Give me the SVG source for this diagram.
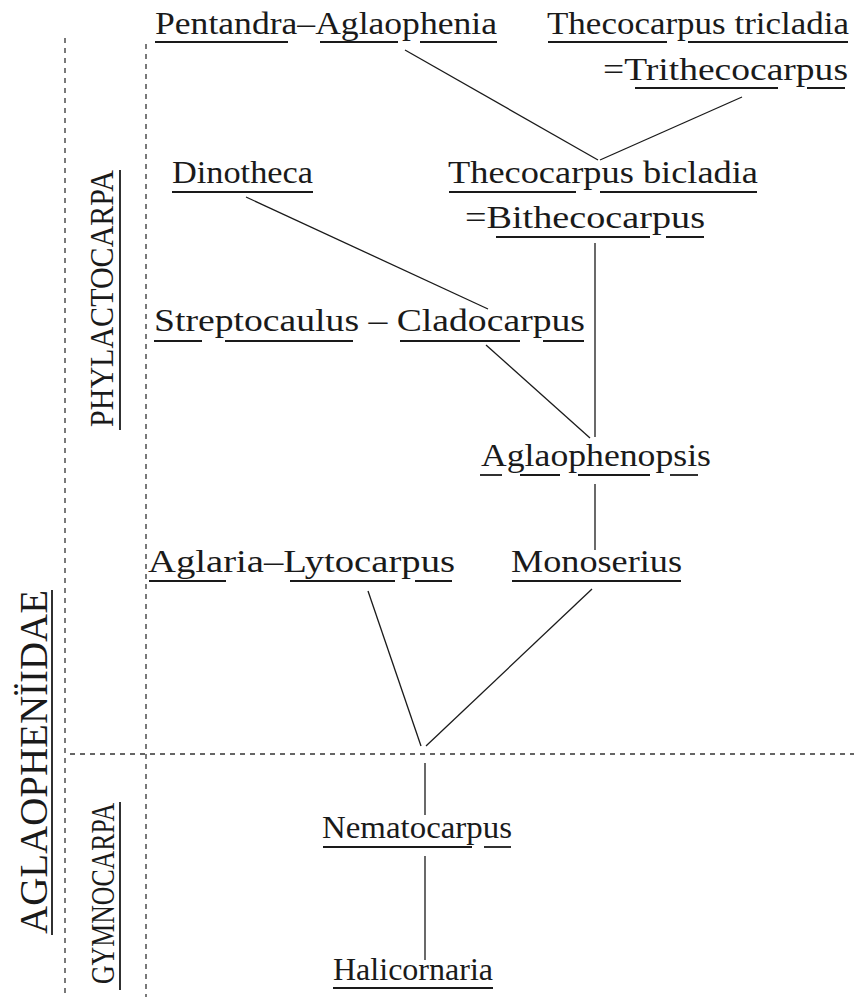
<svg xmlns="http://www.w3.org/2000/svg" width="854" height="997" viewBox="0 0 854 997">
<style>
  .t { font-family: "Liberation Serif", "Times New Roman", serif; font-size: 32px; fill: #1a1a1a; }
  .v { font-family: "Liberation Serif", "Times New Roman", serif; fill: #1a1a1a; }
  .u { stroke: #1a1a1a; stroke-width: 1.8; fill: none; }
  .c { stroke: #1a1a1a; stroke-width: 1.3; fill: none; }
  .d { stroke: #333; stroke-width: 1.3; stroke-dasharray: 5 5; fill: none; }
</style>
<rect width="854" height="997" fill="#fff"/>

<g id="frame">
  <line class="d" x1="65" y1="38" x2="65" y2="997"/>
  <line class="d" x1="146" y1="44" x2="146" y2="997"/>
  <line class="d" x1="70" y1="754" x2="854" y2="754"/>
</g>

<g id="label-family">
  <text class="v" font-size="40" transform="translate(47,934) rotate(-90)" textLength="344" lengthAdjust="spacingAndGlyphs">AGLAOPHENÏIDAE</text>
  <line class="u" x1="52" y1="590" x2="52" y2="935"/>
</g>
<g id="label-phylactocarpa">
  <text class="v" font-size="34" transform="translate(113,427) rotate(-90)" textLength="257" lengthAdjust="spacingAndGlyphs">PHYLACTOCARPA</text>
  <line class="u" x1="120" y1="170" x2="120" y2="430"/>
</g>
<g id="label-gymnocarpa">
  <text class="v" font-size="34" transform="translate(114,984) rotate(-90)" textLength="181" lengthAdjust="spacingAndGlyphs">GYMNOCARPA</text>
  <line class="u" x1="120" y1="802" x2="120" y2="990"/>
</g>

<g id="connectors">
  <line class="c" x1="405" y1="50" x2="598" y2="160"/>
  <line class="c" x1="742" y1="97" x2="600" y2="160"/>
  <line class="c" x1="246" y1="197" x2="488" y2="309"/>
  <line class="c" x1="595" y1="243" x2="595" y2="437"/>
  <line class="c" x1="486" y1="345" x2="590" y2="438"/>
  <line class="c" x1="595" y1="484" x2="595" y2="550"/>
  <line class="c" x1="368" y1="591" x2="421" y2="746"/>
  <line class="c" x1="592" y1="589" x2="426" y2="746"/>
  <line class="c" x1="425" y1="763" x2="425" y2="815"/>
  <line class="c" x1="425" y1="856" x2="425" y2="960"/>
</g>

<g id="n-pentandra-aglaophenia">
  <text class="t" x="155" y="34" textLength="342" lengthAdjust="spacingAndGlyphs">Pentandra–Aglaophenia</text>
  <line class="u" x1="155" y1="42" x2="288" y2="42"/>
  <line class="u" x1="320" y1="42" x2="398" y2="42"/>
  <line class="u" x1="420" y1="42" x2="497" y2="42"/>
</g>
<g id="n-thecocarpus-tricladia">
  <text class="t" x="547" y="34" textLength="302" lengthAdjust="spacingAndGlyphs">Thecocarpus tricladia</text>
  <line class="u" x1="548" y1="42" x2="667" y2="42"/>
  <line class="u" x1="688" y1="42" x2="848" y2="42"/>
  <text class="t" x="603" y="80" textLength="245" lengthAdjust="spacingAndGlyphs">=Trithecocarpus</text>
  <line class="u" x1="635" y1="88" x2="778" y2="88"/>
  <line class="u" x1="807" y1="88" x2="845" y2="88"/>
</g>
<g id="n-dinotheca">
  <text class="t" x="172" y="183" textLength="141" lengthAdjust="spacingAndGlyphs">Dinotheca</text>
  <line class="u" x1="172" y1="192" x2="313" y2="192"/>
</g>
<g id="n-thecocarpus-bicladia">
  <text class="t" x="448" y="183" textLength="310" lengthAdjust="spacingAndGlyphs">Thecocarpus bicladia</text>
  <line class="u" x1="449" y1="192" x2="576" y2="192"/>
  <line class="u" x1="600" y1="192" x2="757" y2="192"/>
  <text class="t" x="465" y="228" textLength="240" lengthAdjust="spacingAndGlyphs">=Bithecocarpus</text>
  <line class="u" x1="496" y1="237" x2="650" y2="237"/>
  <line class="u" x1="666" y1="237" x2="704" y2="237"/>
</g>
<g id="n-streptocaulus-cladocarpus">
  <text class="t" x="154" y="331" textLength="431" lengthAdjust="spacingAndGlyphs">Streptocaulus – Cladocarpus</text>
  <line class="u" x1="154" y1="341" x2="202" y2="341"/>
  <line class="u" x1="225" y1="341" x2="353" y2="341"/>
  <line class="u" x1="400" y1="341" x2="520" y2="341"/>
  <line class="u" x1="543" y1="341" x2="584" y2="341"/>
</g>
<g id="n-aglaophenopsis">
  <text class="t" x="481" y="466" textLength="230" lengthAdjust="spacingAndGlyphs">Aglaophenopsis</text>
  <line class="u" x1="480" y1="475" x2="502" y2="475"/>
  <line class="u" x1="520" y1="475" x2="560" y2="475"/>
  <line class="u" x1="578" y1="475" x2="650" y2="475"/>
  <line class="u" x1="670" y1="475" x2="698" y2="475"/>
</g>
<g id="n-aglaria-lytocarpus">
  <text class="t" x="148" y="572" textLength="307" lengthAdjust="spacingAndGlyphs">Aglaria–Lytocarpus</text>
  <line class="u" x1="149" y1="581" x2="226" y2="581"/>
  <line class="u" x1="290" y1="581" x2="395" y2="581"/>
  <line class="u" x1="415" y1="581" x2="452" y2="581"/>
</g>
<g id="n-monoserius">
  <text class="t" x="511" y="572" textLength="171" lengthAdjust="spacingAndGlyphs">Monoserius</text>
  <line class="u" x1="512" y1="581" x2="681" y2="581"/>
</g>
<g id="n-nematocarpus">
  <text class="t" x="322" y="838" textLength="190" lengthAdjust="spacingAndGlyphs">Nematocarpus</text>
  <line class="u" x1="323" y1="847" x2="472" y2="847"/>
  <line class="u" x1="484" y1="847" x2="511" y2="847"/>
</g>
<g id="n-halicornaria">
  <text class="t" x="333" y="980" textLength="160" lengthAdjust="spacingAndGlyphs">Halicornaria</text>
  <line class="u" x1="333" y1="988" x2="493" y2="988"/>
</g>
</svg>
